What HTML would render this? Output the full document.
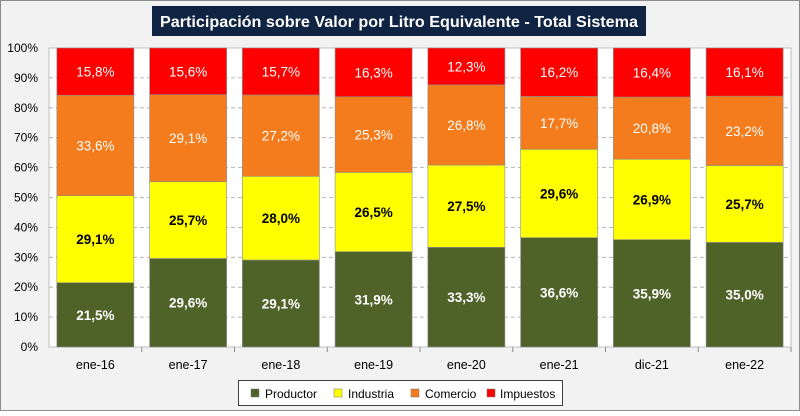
<!DOCTYPE html>
<html><head><meta charset="utf-8"><style>
body{margin:0;width:800px;height:411px;overflow:hidden;background:#fff;font-family:"Liberation Sans",sans-serif}
</style></head><body>
<svg id="c" width="800" height="411" xmlns="http://www.w3.org/2000/svg">
<rect x="0.5" y="0.5" width="799" height="410" fill="#f2f2f2" stroke="#8c8c8c"/>
<rect x="152" y="6" width="494" height="30" fill="#0f2342"/>
<text x="399" y="27" text-anchor="middle" fill="#fff" font-size="16" font-weight="bold" textLength="478" lengthAdjust="spacingAndGlyphs">Participación sobre Valor por Litro Equivalente - Total Sistema</text>
<g id="plot"></g>
<g>
<rect x="238.5" y="380.5" width="324" height="25" fill="#fff" stroke="#404040"/>
<rect x="251" y="389" width="8" height="8" fill="#4f6228" stroke="#777" stroke-width="0.5"/>
<text x="265" y="398" font-size="12" fill="#000">Productor</text>
<rect x="334" y="389" width="8" height="8" fill="#ffff00" stroke="#777" stroke-width="0.5"/>
<text x="348" y="398" font-size="12" fill="#000">Industria</text>
<rect x="411" y="389" width="8" height="8" fill="#f47c1c" stroke="#777" stroke-width="0.5"/>
<text x="425" y="398" font-size="12" fill="#000">Comercio</text>
<rect x="487" y="389" width="8" height="8" fill="#ff0000" stroke="#777" stroke-width="0.5"/>
<text x="500" y="398" font-size="12" fill="#000">Impuestos</text>
</g>
</svg>
<script>
const categories=["ene-16","ene-17","ene-18","ene-19","ene-20","ene-21","dic-21","ene-22"];
const productor=[21.5,29.6,29.1,31.9,33.3,36.6,35.9,35.0];
const industria=[29.1,25.7,28.0,26.5,27.5,29.6,26.9,25.7];
const comercio=[33.6,29.1,27.2,25.3,26.8,17.7,20.8,23.2];
const impuestos=[15.8,15.6,15.7,16.3,12.3,16.2,16.4,16.1];
const yTicks=[0,10,20,30,40,50,60,70,80,90,100];

const NS="http://www.w3.org/2000/svg";
const g=document.getElementById('plot');
const X0=49,X1=791,Y0=347,Y1=48;
const bw=(X1-X0)/categories.length;
const y=v=>Y0-(Y0-Y1)*v/100;
const xc=i=>X0+bw*(i+0.5);
function mk(t,a){const e=document.createElementNS(NS,t);for(const k in a)e.setAttribute(k,a[k]);g.appendChild(e);return e;}
const pa=mk('rect',{x:X0,y:Y1,width:X1-X0,height:Y0-Y1,fill:'#fff',stroke:'#bfbfbf'});


yTicks.forEach(t=>{
  if(t>0&&t<100){const l=mk('line',{x1:X0,x2:X1,y1:y(t),y2:y(t),stroke:'#a6a6a6','stroke-dasharray':'4,3','stroke-width':0.8});
  
  }
  const tx=mk('text',{x:38,y:y(t)+4,'text-anchor':'end','font-size':12,fill:'#000'});
  tx.textContent=t+'%';
  
  
});
const series=[
 {n:'productor',d:productor,c:'#4f6228',t:'#fff',b:true},
 {n:'industria',d:industria,c:'#ffff00',t:'#000',b:true},
 {n:'comercio',d:comercio,c:'#f47c1c',t:'#fff',b:false},
 {n:'impuestos',d:impuestos,c:'#ff0000',t:'#fff',b:false}];
categories.forEach((cat,i)=>{
  const tot=series.reduce((s,se)=>s+se.d[i],0);
  let acc=0;
  series.forEach(se=>{
    const v=se.d[i]/tot*100;
    const top=y(acc+v),bot=y(acc);
    const r=mk('rect',{x:xc(i)-38.5,y:top,width:77,height:bot-top,fill:se.c,stroke:'#8c8c8c','stroke-width':0.6});
    
    
    const tx=mk('text',{x:xc(i),y:(top+bot)/2+5,'text-anchor':'middle','font-size':13.5,fill:se.t,'font-weight':se.b?'bold':'normal'});
    tx.textContent=se.d[i].toFixed(1).replace('.',',')+'%';
    
    
    acc+=v;
  });
  const tk=mk('line',{x1:X0+bw*(i+1),x2:X0+bw*(i+1),y1:Y0,y2:Y0+5,stroke:'#8c8c8c'});
  
  
  const ct=mk('text',{x:xc(i),y:369,'text-anchor':'middle','font-size':12.5,fill:'#000'});
  ct.textContent=cat;
  
  
});
</script>
</body></html>
